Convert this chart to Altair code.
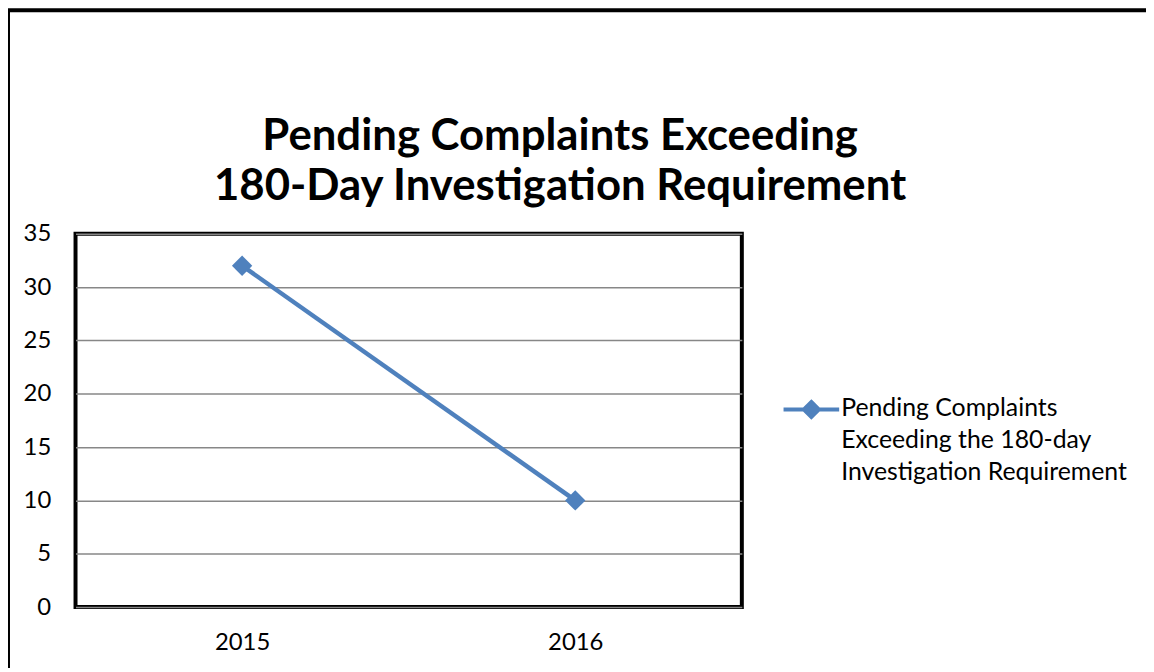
import altair as alt
import pandas as pd

YEARS = ["2015", "2016"]
VALUES = [32, 10]
SERIES_LINES = ["Pending Complaints", "Exceeding the 180-day", "Investigation Requirement"]
SERIES_NAME = " ".join(SERIES_LINES)
TITLE_LINES = ["Pending Complaints Exceeding", "180-Day Investigation Requirement"]
Y_TICKS = [0, 5, 10, 15, 20, 25, 30, 35]

df = pd.DataFrame({"year": YEARS, "value": VALUES, "series": [SERIES_NAME] * len(YEARS)})

BLUE = "#4F81BD"
FONT = "Lato"
FS = 24

color = alt.Color(
    "series:N",
    scale=alt.Scale(domain=[SERIES_NAME], range=[BLUE]),
    legend=alt.Legend(
        title=None,
        orient="none",
        legendX=711,
        legendY=147,
        padding=0,
        symbolType="M-1,0L1,0M0,-0.27L0.27,0L0,0.27L-0.27,0Z",
        symbolSize=3136,
        symbolStrokeWidth=4,
        symbolFillColor=BLUE,
        symbolStrokeColor=BLUE,
        labelExpr="''",
        labelFontSize=1,
        labelOffset=0,
    ),
)

x = alt.X("year:N", sort=YEARS, title=None,
          axis=alt.Axis(labelAngle=0, tickSize=0, domain=False, labelPadding=36,
                        labelBaseline="middle", labelFont=FONT, labelFontSize=FS,
                        labelColor="#000000"))
y = alt.Y("value:Q", title=None, scale=alt.Scale(domain=[0, 35], nice=False),
          axis=alt.Axis(values=Y_TICKS, tickSize=0, domain=False, labelPadding=25,
                        labelFont=FONT, labelFontSize=FS, labelColor="#000000",
                        gridColor="#878787", gridWidth=1.5, gridOpacity=1))

frame = alt.Chart(alt.Data(values=[{}])).mark_rect(
    fill=None, stroke="#000000", strokeWidth=4
).encode(x=alt.value(-68), x2=alt.value(1400), y=alt.value(-225), y2=alt.value(1000))

title = alt.Chart(alt.Data(values=[{}])).mark_text(
    align="center", baseline="alphabetic", font=FONT, fontSize=44, fontWeight="bold",
    lineHeight=50, color="#000000"
).encode(x=alt.value(488), y=alt.value(-84), text=alt.value(TITLE_LINES))

legend_text = alt.Chart(alt.Data(values=[{}])).mark_text(
    align="left", baseline="alphabetic", font=FONT, fontSize=25, lineHeight=32, color="#000000"
).encode(x=alt.value(771), y=alt.value(184), text=alt.value(SERIES_LINES))

line = alt.Chart(df).mark_line(strokeWidth=4.5).encode(x=x, y=y, color=color)
points = alt.Chart(df).mark_point(shape="diamond", filled=True, size=420, opacity=1).encode(
    x=x, y=y, color=color)

chart = alt.layer(frame, title, line, points, legend_text).properties(
    width=671,
    height=376,
    padding={"left": 68, "top": 225, "right": 407, "bottom": 59},
    autosize=alt.AutoSizeParams(type="none"),
).configure(background="white").configure_view(stroke="#000000", strokeWidth=4)

chart.save("out.html", embed_options={"renderer": "svg", "actions": False})
